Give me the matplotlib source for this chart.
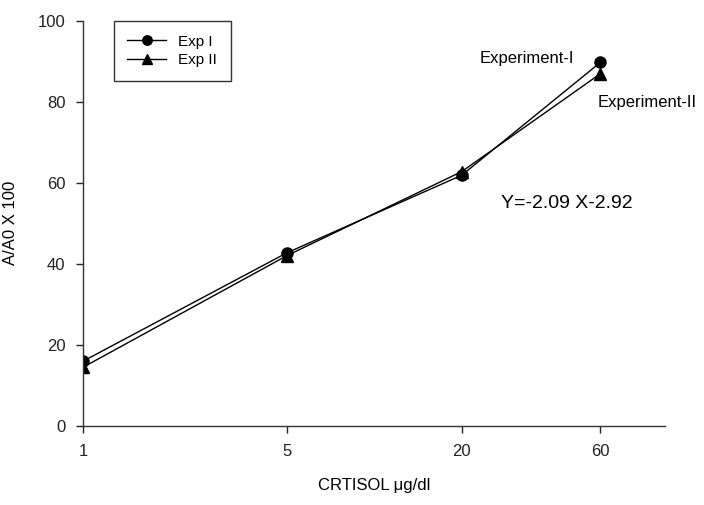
import matplotlib
matplotlib.use('Agg')
from matplotlib import pyplot as plt

plt.rcParams['font.family'] = ['Liberation Sans', 'DejaVu Sans']

# cortisol concentration (ug/dl) and response
conc = [1, 5, 20, 60]
exp1 = [16.0, 42.7, 61.9, 89.8]
exp2 = [14.5, 42.0, 62.8, 87.0]
tick_labels = ['1', '5', '20', '60']

fig = plt.figure(figsize=(7.04, 5.05), dpi=100)
ax = fig.add_axes([0.1186, 0.157, 0.826, 0.8014])

ax.plot(conc, exp1, color='black', lw=1.0, marker='o', ms=8, label='Exp I')
ax.plot(conc, exp2, color='black', lw=1.0, marker='^', ms=8, label='Exp II')

ax.set_xscale('log')
ax.set_xlim(1, 100)
ax.set_ylim(0, 100)
ax.set_xticks(conc)
ax.set_xticklabels(tick_labels)
ax.xaxis.set_minor_locator(matplotlib.ticker.NullLocator())
ax.set_yticks(range(0, 101, 20))

for s in ('top', 'right'):
	ax.spines[s].set_visible(False)
for s in ('left', 'bottom'):
	ax.spines[s].set_linewidth(1.0)
	ax.spines[s].set_color('#333333')
ax.tick_params(direction='out', length=5, width=1, labelsize=12, pad=8, colors='#222222')

ax.set_xlabel('CRTISOL \u03bcg/dl', fontsize=12, labelpad=14)
ax.set_ylabel('A/A0 X 100', fontsize=12, labelpad=14)

# annotations placed in figure pixels (from the top-left of the original)
ax.annotate('Experiment-I', xy=(527, 505 - 58), xycoords='figure pixels', fontsize=12, ha='center', va='center')
ax.annotate('Experiment-II', xy=(647, 505 - 103), xycoords='figure pixels', fontsize=12, ha='center', va='center')
ax.annotate('Y=-2.09 X-2.92', xy=(567, 505 - 203), xycoords='figure pixels', fontsize=14, ha='center', va='center')

leg = ax.legend(loc='upper left', bbox_to_anchor=(0.052, 1.0), borderaxespad=0, frameon=True, fancybox=False,
	edgecolor='black', fontsize=11, handlelength=2.5, borderpad=0.9, labelspacing=0.3, markerscale=0.85)
leg.get_frame().set_linewidth(1.0)

fig.savefig('out.png', dpi=100)
